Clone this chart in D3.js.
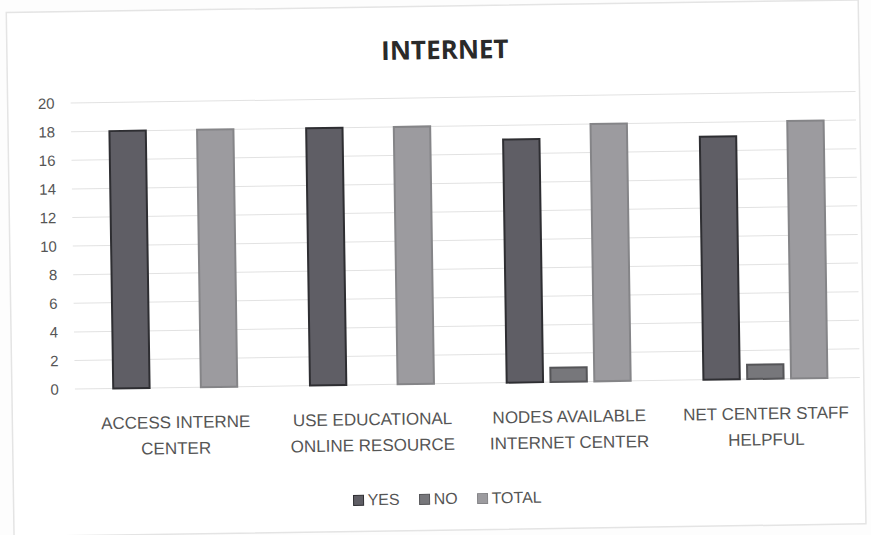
<!DOCTYPE html>
<html><head><meta charset="utf-8">
<script src="https://cdn.jsdelivr.net/npm/d3@7"></script>
<style>
html,body{margin:0;padding:0;background:#fff;}
svg{display:block;}
</style></head>
<body>
<script>
const categories = [["ACCESS INTERNE","CENTER"],["USE EDUCATIONAL","ONLINE RESOURCE"],["NODES AVAILABLE","INTERNET CENTER"],["NET CENTER STAFF","HELPFUL"]];
const seriesNames = ["YES","NO","TOTAL"];
const yesValues = [18, 18, 17, 17];
const noValues = [0, 0, 1, 1];
const totalValues = [18, 18, 18, 18];
const yTicks = [0,2,4,6,8,10,12,14,16,18,20];
const title = "INTERNET";

const W = 871, H = 535;
const colors = {YES:"#5f5e65", NO:"#77777b", TOTAL:"#9c9b9f"};
const strokes = {YES:"#2e2e32", NO:"#555558", TOTAL:"#858588"};
const font = "'Liberation Sans',Arial,sans-serif";

const svg = d3.select("body").append("svg").attr("width",W).attr("height",H);
svg.append("rect").attr("width",W).attr("height",H).attr("fill","#fdfdfd");
const g = svg.append("g").attr("transform","rotate(-0.85,450,260)");
g.append("rect").attr("x",10).attr("y",6).attr("width",852).attr("height",524)
  .attr("fill","#fff").attr("stroke","#e4e4e4").attr("stroke-width",1.5);

const m = {left:73, right:858, top:97.5, bottom:383.5};
const x0 = d3.scaleBand().domain(d3.range(categories.length)).range([75,862]).paddingInner(0).paddingOuter(0);
const x1 = d3.scaleBand().domain(seriesNames).range([0,x0.bandwidth()]).paddingInner(0.17).paddingOuter(0.83);
const y = d3.scaleLinear().domain([0,20]).range([m.bottom,m.top]);

// grid
g.append("g").selectAll("line").data(yTicks).join("line")
  .attr("x1",m.left).attr("x2",m.right).attr("y1",d=>y(d)).attr("y2",d=>y(d))
  .attr("stroke","#e2e2e2").attr("stroke-width",1);

// y axis
const yAxis = d3.axisLeft(y).tickValues(yTicks).tickSize(0).tickPadding(16);
const ya = g.append("g").attr("transform",`translate(${m.left},0)`).call(yAxis);
ya.select(".domain").remove();
ya.selectAll("text").attr("font-family",font).attr("font-size",15).attr("fill","#555");

const data = categories.map((c,i)=>({i, vals:{YES:yesValues[i],NO:noValues[i],TOTAL:totalValues[i]}}));
const grp = g.append("g").selectAll("g").data(data).join("g").attr("transform",d=>`translate(${x0(d.i)},0)`);
grp.selectAll("rect").data(d=>seriesNames.map(s=>({s,v:d.vals[s]}))).join("rect")
  .attr("x",d=>x1(d.s)).attr("width",x1.bandwidth())
  .attr("y",d=>y(d.v)).attr("height",d=>y(0)-y(d.v))
  .attr("fill",d=>colors[d.s]).attr("stroke",d=>strokes[d.s]).attr("stroke-width",2)
  .attr("visibility",d=>d.v>0?"visible":"hidden");

// category labels
const xl = g.append("g");
categories.forEach((c,i)=>{
  c.forEach((line,j)=>{
    xl.append("text").attr("x",x0(i)+x0.bandwidth()/2).attr("y",424+j*26)
      .attr("text-anchor","middle").attr("font-family",font)
      .attr("font-size",17).attr("fill","#555").text(line);
  });
});

// title
g.append("text").attr("x",448).attr("y",59).attr("text-anchor","middle")
  .attr("font-family","'Open Sans',Arial,sans-serif").attr("font-weight","bold")
  .attr("font-size",26).attr("fill","#2a2a2a").text(title);

// legend
const lg = g.append("g").attr("transform","translate(350,504)");
let lx = 0;
seriesNames.forEach(s=>{
  lg.append("rect").attr("x",lx).attr("y",-10).attr("width",10).attr("height",10)
    .attr("fill",colors[s]).attr("stroke",strokes[s]);
  const t = lg.append("text").attr("x",lx+14).attr("y",0)
    .attr("font-family",font).attr("font-size",16).attr("fill","#555").text(s);
  lx += 14 + t.node().getComputedTextLength() + 20;
});
</script>
</body></html>
